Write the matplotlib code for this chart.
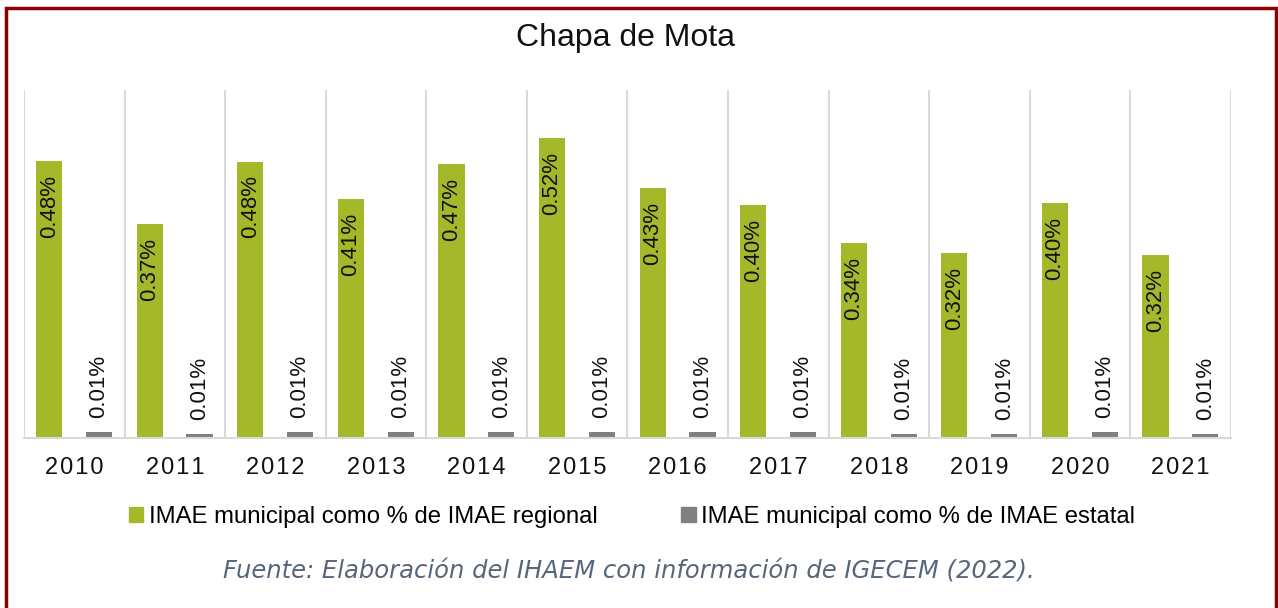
import matplotlib.pyplot as plt
import numpy as np
from matplotlib.patches import Rectangle, Patch

plt.rcParams['font.family'] = ['Liberation Sans', 'DejaVu Sans']

years = ['2010', '2011', '2012', '2013', '2014', '2015',
         '2016', '2017', '2018', '2019', '2020', '2021']
regional = [0.480, 0.370, 0.479, 0.414, 0.475, 0.520, 0.433, 0.404, 0.338, 0.321, 0.407, 0.317]
regional_labels = ['0.48%', '0.37%', '0.48%', '0.41%', '0.47%', '0.52%',
                   '0.43%', '0.40%', '0.34%', '0.32%', '0.40%', '0.32%']
estatal = [0.0105, 0.0075, 0.0105, 0.0105, 0.0105, 0.0105,
           0.0105, 0.0105, 0.0075, 0.0075, 0.0105, 0.0075]
estatal_labels = ['0.01%'] * 12

green = '#a5b82a'
gray = '#808080'

fig = plt.figure(figsize=(12.78, 6.08), dpi=100)
ax = fig.add_axes([24 / 1278, 1 - 438 / 608, (1231 - 24) / 1278, (438 - 90) / 608])

x = np.arange(len(years))
w = 0.26
ax.bar(x - 0.25, regional, w, color=green)
ax.bar(x + 0.245, estatal, w, color=gray)

for i in range(len(years)):
    ax.annotate(regional_labels[i], (x[i] - 0.25, regional[i]),
                xytext=(0, -10), textcoords='offset points', rotation=90,
                ha='center', va='top', fontsize=16, color='#111111')
    ax.annotate(estatal_labels[i], (x[i] + 0.245, estatal[i]),
                xytext=(0, 10), textcoords='offset points', rotation=90,
                ha='center', va='bottom', fontsize=16, color='#111111')

for i in range(len(years) + 1):
    ax.axvline(i - 0.5, color='#d9d9d9', lw=1.5, zorder=0)

ax.set_xlim(-0.5, len(years) - 0.5)
ax.set_ylim(0, 0.603)
ax.set_yticks([])
ax.set_xticks(x)
ax.set_xticklabels(['\u200a'.join(y) for y in years], fontsize=17, color='#111111')
ax.tick_params(axis='x', length=0, pad=14)
for s in ['top', 'left', 'right']:
    ax.spines[s].set_visible(False)
ax.spines['bottom'].set_color('#d9d9d9')
ax.spines['bottom'].set_linewidth(1.5)

fig.text(626 / 1278, 1 - 38 / 608, 'Chapa de Mota', ha='center', va='center', fontsize=23, color='#111111')

handles = [Patch(color=green), Patch(color=gray)]
fig.legend(handles, ['IMAE municipal como % de IMAE regional', 'IMAE municipal como % de IMAE estatal'],
           loc='center', bbox_to_anchor=(632 / 1278, 1 - 517 / 608), ncol=2, frameon=False,
           fontsize=17.2, handlelength=0.6, handleheight=0.6, handletextpad=0.25, columnspacing=3.5)

fig.text(629 / 1278, 1 - 572 / 608, 'Fuente: Elaboración del IHAEM con información de IGECEM (2022).',
         ha='center', va='center', fontsize=17.5, style='italic', color='#56677c',
         family=['DejaVu Sans'])

border = Rectangle((6 / 1278, -0.05), 1270 / 1278, 1.05 - 8 / 608, transform=fig.transFigure,
                   fill=False, edgecolor='#8b0000', lw=2.5, clip_on=False)
fig.patches.append(border)

fig.savefig('out.png', dpi=100)
